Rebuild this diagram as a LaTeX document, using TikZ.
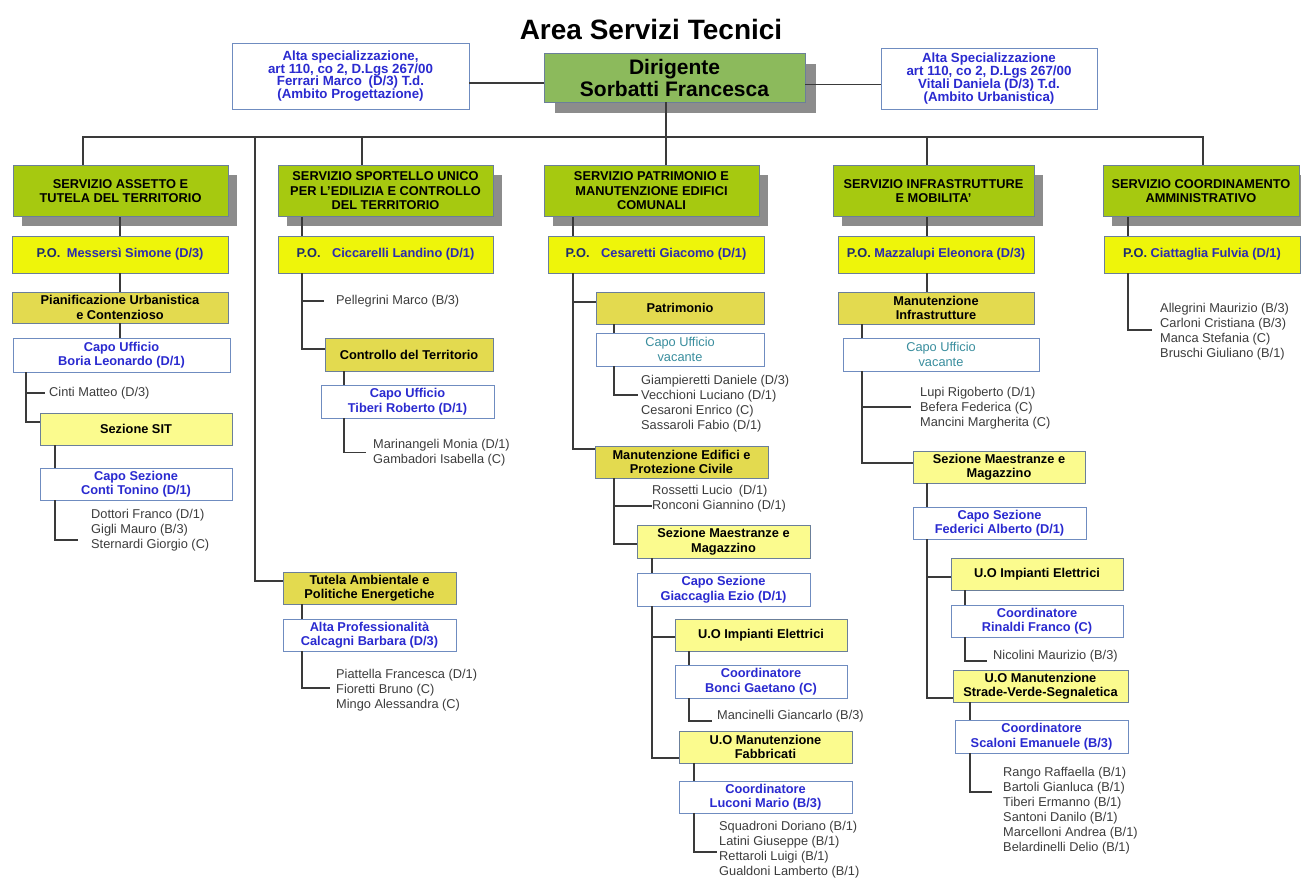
\documentclass[tikz,border=0pt]{standalone}
\usepackage{fontspec}
\setmainfont{Liberation Sans}
\usetikzlibrary{shadows}
\definecolor{svcfill}{HTML}{A6C910}
\definecolor{pofill}{HTML}{EEF50A}
\definecolor{olivefill}{HTML}{E3DA4F}
\definecolor{lightyel}{HTML}{FBFB8E}
\definecolor{dirfill}{HTML}{8CBA5C}
\definecolor{boxline}{HTML}{6B7F99}
\definecolor{wline}{HTML}{6F8CC0}
\definecolor{bluetxt}{HTML}{2A2AD0}
\definecolor{potxt}{HTML}{2B2BB0}
\definecolor{navytxt}{HTML}{1E2D6E}
\definecolor{vactxt}{HTML}{3A8E9E}
\definecolor{nametxt}{HTML}{3C3C3C}
\definecolor{conn}{HTML}{3A3A3A}
\newcommand{\bxf}{\fontsize{12.8}{14.5}\selectfont}
\newcommand{\nmf}{\fontsize{12.8}{15}\selectfont}
\newcommand{\topf}{\fontsize{13.3}{12.8}\selectfont}
\begin{document}
\begin{tikzpicture}[x=1pt,y=-1pt,
 base/.style={draw=boxline, line width=0.9pt, align=center, inner sep=1pt, font=\bxf\bfseries},
 svc/.style={base, fill=svcfill, minimum height=51pt, drop shadow={shadow xshift=9pt, shadow yshift=-9pt, fill=black!45, opacity=1}},
 dirbox/.style={base, fill=dirfill, minimum width=261pt, minimum height=49pt, font=\fontsize{21}{22}\selectfont\bfseries, drop shadow={shadow xshift=11pt, shadow yshift=-11pt, fill=black!45, opacity=1}},
 po/.style={base, fill=pofill, minimum height=37pt, text=potxt},
 ol/.style={base, fill=olivefill, minimum height=32pt},
 ly/.style={base, fill=lightyel, minimum height=32pt},
 wb/.style={base, draw=wline, fill=white, minimum height=33pt, text=bluetxt},
 topbox/.style={wb, font=\topf\bfseries},
 vac/.style={wb, text=vactxt, font=\bxf},
 nm/.style={anchor=west, align=left, inner sep=0pt, text=nametxt, font=\nmf},
 ln/.style={draw=conn, line width=1.1pt},
]
\useasboundingbox (0,0) rectangle (1301,878);

% title
\node[font=\fontsize{28}{30}\selectfont\bfseries] (title) at (651,29) {Area Servizi Tecnici};

% top row
\node[dirbox] (dir) at (674.5,77.5) {Dirigente\\Sorbatti Francesca};
\node[topbox, minimum width=237pt, minimum height=66pt] (alta1) at (350.5,76) {Alta specializzazione,\\art 110, co 2, D.Lgs 267/00\\Ferrari Marco\enspace(D/3) T.d.\\(Ambito Progettazione)};
\node[topbox, minimum width=216pt, minimum height=61pt] (alta2) at (989,78.5) {Alta Specializzazione\\art 110, co 2, D.Lgs 267/00\\Vitali Daniela (D/3) T.d.\\(Ambito Urbanistica)};

% services
\node[svc, minimum width=215pt] (s1) at (120.5,191) {SERVIZIO ASSETTO E\\TUTELA DEL TERRITORIO};
\node[svc, minimum width=215pt] (s2) at (385.5,191) {SERVIZIO SPORTELLO UNICO\\PER L'EDILIZIA E CONTROLLO\\DEL TERRITORIO};
\node[svc, minimum width=215pt] (s3) at (651.5,191) {SERVIZIO PATRIMONIO E\\MANUTENZIONE EDIFICI\\COMUNALI};
\node[svc, minimum width=201pt] (s4) at (933.5,191) {SERVIZIO INFRASTRUTTURE\\E MOBILITA'};
\node[svc, minimum width=196pt] (s5) at (1201,191) {SERVIZIO COORDINAMENTO\\AMMINISTRATIVO};

% P.O.
\node[po, minimum width=216pt] (p1) at (120,254.5) {{\color{navytxt}P.O.}\hspace{0.5em}Messersì Simone (D/3)};
\node[po, minimum width=215pt] (p2) at (385.5,254.5) {{\color{navytxt}P.O.}\hspace{0.9em}Ciccarelli Landino (D/1)};
\node[po, minimum width=216pt] (p3) at (656,254.5) {{\color{navytxt}P.O.}\hspace{0.9em}Cesaretti Giacomo (D/1)};
\node[po, minimum width=196pt] (p4) at (936,254.5) {{\color{navytxt}P.O.} Mazzalupi Eleonora (D/3)};
\node[po, minimum width=196pt] (p5) at (1202,254.5) {{\color{navytxt}P.O.} Ciattaglia Fulvia (D/1)};

% column 1
\node[ol, minimum width=216pt, minimum height=31pt] (pian) at (120,307.5) {Pianificazione Urbanistica\\e Contenzioso};
\node[wb, minimum width=217pt, minimum height=34pt] (capo1) at (121.5,355) {Capo Ufficio\\Boria Leonardo (D/1)};
\node[nm] (cinti) at (49,393) {Cinti Matteo (D/3)};
\node[ly, minimum width=192pt] (sit) at (136,429) {Sezione SIT};
\node[wb, minimum width=192pt, minimum height=32pt] (capo2) at (136,484) {Capo Sezione\\Conti Tonino (D/1)};
\node[nm] (n1) at (91,530) {Dottori Franco (D/1)\\Gigli Mauro (B/3)\\Sternardi Giorgio (C)};

% column 2
\node[nm] (pel) at (336,301) {Pellegrini Marco (B/3)};
\node[ol, minimum width=168pt, minimum height=33pt] (ctrl) at (409,354.5) {Controllo del Territorio};
\node[wb, minimum width=173pt] (capo3) at (407.5,401.5) {Capo Ufficio\\Tiberi Roberto (D/1)};
\node[nm] (n2) at (373,452.5) {Marinangeli Monia (D/1)\\Gambadori Isabella (C)};
\node[ol, minimum width=173pt] (tutela) at (369.5,588) {Tutela Ambientale e\\Politiche Energetiche};
\node[wb, minimum width=173pt, minimum height=32pt] (altaprof) at (369.5,635) {Alta Professionalità\\Calcagni Barbara (D/3)};
\node[nm] (n3) at (336,690) {Piattella Francesca (D/1)\\Fioretti Bruno (C)\\Mingo Alessandra (C)};

% column 3
\node[ol, minimum width=168pt] (pat) at (680,308) {Patrimonio};
\node[vac, minimum width=168pt] (capo4) at (680,349.5) {Capo Ufficio\\vacante};
\node[nm] (n4) at (641,403.5) {Giampieretti Daniele (D/3)\\Vecchioni Luciano (D/1)\\Cesaroni Enrico (C)\\Sassaroli Fabio (D/1)};
\node[ol, minimum width=173pt] (manut) at (681.5,462) {Manutenzione Edifici e\\Protezione Civile};
\node[nm] (n5) at (652,498.5) {Rossetti Lucio\enspace(D/1)\\Ronconi Giannino (D/1)};
\node[ly, minimum width=173pt, minimum height=33pt] (sez3) at (723.5,541.5) {Sezione Maestranze e\\Magazzino};
\node[wb, minimum width=173pt] (capo5) at (723.5,589.5) {Capo Sezione\\Giaccaglia Ezio (D/1)};
\node[ly, minimum width=172pt] (uo1) at (761,635) {U.O Impianti Elettrici};
\node[wb, minimum width=172pt] (coord1) at (761,681.5) {Coordinatore\\Bonci Gaetano (C)};
\node[nm] (n6) at (717,716) {Mancinelli Giancarlo (B/3)};
\node[ly, minimum width=173pt] (uo2) at (765.5,747) {U.O Manutenzione\\Fabbricati};
\node[wb, minimum width=173pt, minimum height=32pt] (coord2) at (765.5,797) {Coordinatore\\Luconi Mario (B/3)};
\node[nm] (n7) at (719,850) {Squadroni Doriano (B/1)\\Latini Giuseppe (B/1)\\Rettaroli Luigi (B/1)\\Gualdoni Lamberto (B/1)};

% column 4
\node[ol, minimum width=196pt] (mi) at (936,308) {Manutenzione\\Infrastrutture};
\node[vac, minimum width=196pt] (capo6) at (941,354.5) {Capo Ufficio\\vacante};
\node[nm] (n8) at (920,408) {Lupi Rigoberto (D/1)\\Befera Federica (C)\\Mancini Margherita (C)};
\node[ly, minimum width=172pt] (sez4) at (999,467) {Sezione Maestranze e\\Magazzino};
\node[wb, minimum width=173pt, minimum height=32pt] (capo7) at (999.5,523) {Capo Sezione\\Federici Alberto (D/1)};
\node[ly, minimum width=172pt] (uo3) at (1037,574) {U.O Impianti Elettrici};
\node[wb, minimum width=172pt, minimum height=32pt] (coord3) at (1037,621) {Coordinatore\\Rinaldi Franco (C)};
\node[nm] (n9) at (993,656) {Nicolini Maurizio (B/3)};
\node[ly, minimum width=175pt] (uo4) at (1040.5,686) {U.O Manutenzione\\Strade-Verde-Segnaletica};
\node[wb, minimum width=173pt] (coord4) at (1041.5,736.5) {Coordinatore\\Scaloni Emanuele (B/3)};
\node[nm] (n10) at (1003,810.5) {Rango Raffaella (B/1)\\Bartoli Gianluca (B/1)\\Tiberi Ermanno (B/1)\\Santoni Danilo (B/1)\\Marcelloni Andrea (B/1)\\Belardinelli Delio (B/1)};

% column 5
\node[nm] (n11) at (1160,332) {Allegrini Maurizio (B/3)\\Carloni Cristiana (B/3)\\Manca Stefania (C)\\Bruschi Giuliano (B/1)};

% ---------- connectors ----------
\coordinate (a1) at ([yshift=-7pt]alta1.east);
\draw[ln] (a1) -- (a1 -| dir.west);
\coordinate (a2) at ([yshift=-7pt]dir.east);
\draw[ln] (a2) -- (a2 -| alta2.west);

\coordinate (bj) at (666,137);
\coordinate (d1) at (83,137);
\coordinate (d2) at (362,137);
\coordinate (d2b) at (255,137);
\coordinate (d4) at (927,137);
\coordinate (d5) at (1203,137);
\draw[ln] (bj |- dir.south) -- (bj |- s3.north);
\draw[ln] (d1 |- s1.north) -- (d1) -- (d5) -- (d5 |- s5.north);
\draw[ln] (d2) -- (d2 |- s2.north);
\draw[ln] (d4) -- (d4 |- s4.north);
\coordinate (t1) at (255,581);
\draw[ln] (d2b) -- (t1) -- (t1 -| tutela.west);

% col 1
\coordinate (x1) at (120,0);
\draw[ln] (s1.south -| x1) -- (p1.north -| x1);
\draw[ln] (p1.south -| x1) -- (pian.north -| x1);
\draw[ln] (pian.south -| x1) -- (capo1.north -| x1);
\coordinate (x1b) at (26,0);
\draw[ln] (capo1.south -| x1b) |- ([yshift=7pt]sit.west);
\coordinate (e1) at (26,393);
\draw[ln] (e1) -- ([xshift=-4pt]cinti.west);
\coordinate (x1c) at (55,0);
\draw[ln] (sit.south -| x1c) -- (capo2.north -| x1c);
\coordinate (e2) at (78,540);
\draw[ln] (capo2.south -| x1c) |- (e2);

% col 2
\coordinate (x2) at (302,0);
\draw[ln] (s2.south -| x2) -- (p2.north -| x2);
\draw[ln] (p2.south -| x2) |- ([yshift=5.5pt]ctrl.west);
\coordinate (e3) at ([xshift=-12pt]pel.west);
\draw[ln] (e3 -| x2) -- (e3);
\coordinate (x2b) at (344,0);
\draw[ln] (ctrl.south -| x2b) -- (capo3.north -| x2b);
\draw[ln] (capo3.south -| x2b) |- ([xshift=-7pt]n2.west);
\draw[ln] (tutela.south -| x2) -- (altaprof.north -| x2);
\coordinate (e3b) at (330,688);
\draw[ln] (altaprof.south -| x2) |- (e3b);

% col 3
\coordinate (x3) at (573,0);
\draw[ln] (s3.south -| x3) -- (p3.north -| x3);
\draw[ln] (p3.south -| x3) |- ([yshift=13pt]manut.west);
\coordinate (pw) at ([yshift=6pt]pat.west);
\draw[ln] (pw -| x3) -- (pw);
\coordinate (x3b) at (614,0);
\draw[ln] (pat.south -| x3b) -- (capo4.north -| x3b);
\coordinate (e4) at (638,395);
\draw[ln] (capo4.south -| x3b) |- (e4);
\draw[ln] (manut.south -| x3b) |- ([yshift=-2.5pt]sez3.west);
\coordinate (e5) at (652,506);
\draw[ln] (e5 -| x3b) -- (e5);
\coordinate (x3c) at (652,0);
\draw[ln] (sez3.south -| x3c) -- (capo5.north -| x3c);
\draw[ln] (capo5.south -| x3c) |- ([yshift=-11pt]uo2.west);
\coordinate (u1) at ([yshift=-2pt]uo1.west);
\draw[ln] (u1 -| x3c) -- (u1);
\coordinate (x3d) at (689,0);
\draw[ln] (uo1.south -| x3d) -- (coord1.north -| x3d);
\coordinate (e6) at (712,721);
\draw[ln] (coord1.south -| x3d) |- (e6);
\coordinate (x3e) at (694,0);
\draw[ln] (uo2.south -| x3e) -- (coord2.north -| x3e);
\coordinate (e7) at (717,852);
\draw[ln] (coord2.south -| x3e) |- (e7);

% col 4
\coordinate (x4) at (927,0);
\draw[ln] (s4.south -| x4) -- (p4.north -| x4);
\draw[ln] (p4.south -| x4) -- (mi.north -| x4);
\coordinate (x4b) at (862,0);
\draw[ln] (mi.south -| x4b) -- (capo6.north -| x4b);
\draw[ln] (capo6.south -| x4b) |- ([yshift=4pt]sez4.west);
\coordinate (e8) at (911,407);
\draw[ln] (e8 -| x4b) -- (e8);
\draw[ln] (sez4.south -| x4) -- (capo7.north -| x4);
\draw[ln] (capo7.south -| x4) |- ([yshift=-12pt]uo4.west);
\coordinate (u3) at ([yshift=-3pt]uo3.west);
\draw[ln] (u3 -| x4) -- (u3);
\coordinate (x4c) at (965,0);
\draw[ln] (uo3.south -| x4c) -- (coord3.north -| x4c);
\coordinate (e9) at (987,661);
\draw[ln] (coord3.south -| x4c) |- (e9);
\coordinate (x4d) at (970,0);
\draw[ln] (uo4.south -| x4d) -- (coord4.north -| x4d);
\coordinate (e10) at (992,792);
\draw[ln] (coord4.south -| x4d) |- (e10);

% col 5
\coordinate (x5) at (1128,0);
\draw[ln] (s5.south -| x5) -- (p5.north -| x5);
\coordinate (e11) at (1152,330);
\draw[ln] (p5.south -| x5) |- (e11);
\end{tikzpicture}
\end{document}
